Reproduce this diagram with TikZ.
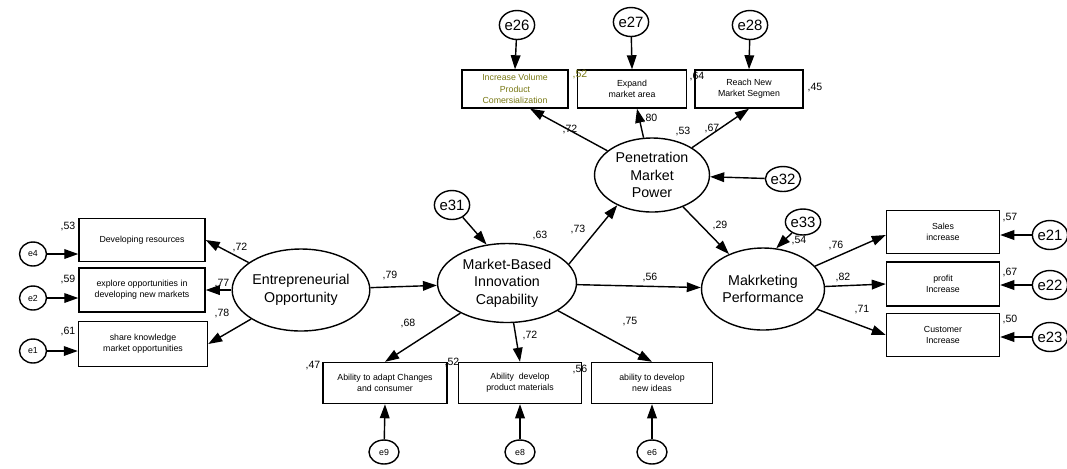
\documentclass[tikz,border=0pt]{standalone}
\usepackage{fontspec}
\setmainfont{Liberation Sans}
\usetikzlibrary{shapes.geometric,arrows.meta}
\definecolor{olivetext}{RGB}{120,120,20}

\tikzset{
  latent/.style={draw, ellipse, line width=0.8pt, inner sep=0pt, align=center, font=\fontsize{8.1}{9.9}\selectfont},
  obs/.style={draw, rectangle, line width=0.8pt, inner sep=0pt, align=center, font=\fontsize{5}{6.4}\selectfont},
  errsmall/.style={draw, ellipse, line width=0.8pt, inner sep=0pt, minimum width=0.54cm, minimum height=0.48cm, font=\fontsize{5}{6}\selectfont},
  errbig/.style={draw, ellipse, line width=0.8pt, inner sep=0pt, minimum width=0.68cm, minimum height=0.58cm, font=\fontsize{8.5}{9}\selectfont},
  arr/.style={line width=0.8pt, -{Triangle[length=8pt, width=5.5pt]}},
  lbl/.style={inner sep=0pt, font=\fontsize{6}{7}\selectfont}
}

\begin{document}
\begin{tikzpicture}[x=0.02cm, y=-0.02cm]
\useasboundingbox (0,0) rectangle (1067,468);

% latent variables
\node[latent, minimum width=2.44cm, minimum height=1.64cm] (eo) at (301,290) {Entrepreneurial\\Opportunity};
\node[latent, minimum width=2.78cm, minimum height=1.58cm] (mbic) at (507,283) {Market-Based\\Innovation\\Capability};
\node[latent, minimum width=2.3cm, minimum height=1.48cm] (pmp) at (652,175) {Penetration\\Market\\Power};
\node[latent, minimum width=2.46cm, minimum height=1.64cm] (mp) at (763,289) {Makrketing\\Performance};

% indicators of entrepreneurial opportunity
\node[obs, minimum width=2.52cm, minimum height=0.86cm] (devres) at (142,240) {Developing resources};
\node[obs, minimum width=2.52cm, minimum height=0.88cm] (explore) at (142,290) {explore opportunities in\\developing new markets};
\node[obs, minimum width=2.58cm, minimum height=0.9cm] (share) at (143,344) {share knowledge\\market opportunities};
\node[errsmall] (e4) at (33,254) {e4};
\node[errsmall] (e2) at (33,298) {e2};
\node[errsmall] (e1) at (33,351) {e1};

% indicators of innovation capability
\node[obs, minimum width=2.48cm, minimum height=0.82cm] (adapt) at (385,383) {Ability to adapt Changes\\and consumer};
\node[obs, minimum width=2.46cm, minimum height=0.82cm] (product) at (520,383) {Ability\ \ develop\\product materials};
\node[obs, minimum width=2.42cm, minimum height=0.82cm] (ideas) at (652,383) {ability to develop\\new ideas};
\node[errsmall, minimum width=0.6cm] (e9) at (384,452) {e9};
\node[errsmall, minimum width=0.6cm] (e8) at (520,452) {e8};
\node[errsmall, minimum width=0.6cm] (e6) at (652,452) {e6};

% indicators of penetration market power
\node[obs, minimum width=2.12cm, minimum height=0.76cm, text=olivetext] (volume) at (515,89) {Increase Volume\\Product\\Comersialization};
\node[obs, minimum width=2.18cm, minimum height=0.76cm] (expand) at (632,89) {Expand\\market area};
\node[obs, minimum width=2.16cm, minimum height=0.76cm] (reach) at (749,89) {Reach New\\Market Segmen};
\node[errbig] (e26) at (517,25) {e26};
\node[errbig] (e27) at (631,22) {e27};
\node[errbig] (e28) at (750,25) {e28};

% indicators of marketing performance
\node[obs, minimum width=2.26cm, minimum height=0.86cm] (sales) at (943,232) {Sales\\increase};
\node[obs, minimum width=2.26cm, minimum height=0.88cm] (profit) at (943,284) {profit\\Increase};
\node[obs, minimum width=2.26cm, minimum height=0.86cm] (customer) at (943,335) {Customer\\Increase};
\node[errbig] (e21) at (1050,235) {e21};
\node[errbig] (e22) at (1050,285) {e22};
\node[errbig] (e23) at (1050,337) {e23};

% disturbances
\node[errbig] (e31) at (452,205) {e31};
\node[errbig, minimum width=0.6cm, minimum height=0.5cm] (e32) at (783,179) {e32};
\node[errbig, minimum width=0.64cm, minimum height=0.52cm] (e33) at (803,222) {e33};

% estimates
\node[lbl] at (68,226) {,53};
\node[lbl] at (68,279) {,59};
\node[lbl] at (68,331) {,61};
\node[lbl] at (240,247) {,72};
\node[lbl] at (222,284) {,77};
\node[lbl] at (222,313) {,78};
\node[lbl] at (390,275) {,79};
\node[lbl] at (540,235) {,63};
\node[lbl] at (578,229) {,73};
\node[lbl] at (650,277) {,56};
\node[lbl] at (408,323) {,68};
\node[lbl] at (530,335) {,72};
\node[lbl] at (630,322) {,75};
\node[lbl] at (313,366) {,47};
\node[lbl] at (452,362) {,52};
\node[lbl] at (580,369) {,56};
\node[lbl] at (570,129) {,72};
\node[lbl] at (650,118) {,80};
\node[lbl] at (683,131) {,53};
\node[lbl] at (712,128) {,67};
\node[lbl, text=olivetext] at (580,74) {,52};
\node[lbl] at (697,76) {,64};
\node[lbl] at (815,88) {,45};
\node[lbl] at (720,225) {,29};
\node[lbl] at (799,241) {,54};
\node[lbl] at (836,245) {,76};
\node[lbl] at (843,277) {,82};
\node[lbl] at (862,310) {,71};
\node[lbl] at (1010,218) {,57};
\node[lbl] at (1010,272) {,67};
\node[lbl] at (1010,319) {,50};

% structural paths
\draw[arr] (eo) -- (mbic);
\draw[arr] (mbic.17) -- (pmp.221);
\draw[arr] (mbic) -- (mp);
\draw[arr] (pmp) -- (mp);
\draw[arr] (e31) -- (mbic.118);
\draw[arr] (e32) -- (pmp);
\draw[arr] (e33) -- (mp.72);

% measurement paths
\draw[arr] (eo) -- (devres.east);
\draw[arr] (eo) -- (explore.east);
\draw[arr] (eo) -- (share.east);
\draw[arr] (e4) -- (devres.west |- e4);
\draw[arr] (e2) -- (explore.west |- e2);
\draw[arr] (e1) -- (share.west |- e1);

\draw[arr] (mbic) -- (adapt.north);
\draw[arr] (mbic) -- (product.north);
\draw[arr] (mbic) -- (ideas.north);
\draw[arr] (e9) -- (adapt.south);
\draw[arr] (e8) -- (product.south);
\draw[arr] (e6) -- (ideas.south);

\draw[arr] (pmp) -- ([xshift=0.3cm]volume.south);
\draw[arr] (pmp) -- ([xshift=0.1cm]expand.south);
\draw[arr] (pmp) -- (reach.south);
\draw[arr] (e26) -- (volume.north);
\draw[arr] (e27) -- (expand.north);
\draw[arr] (e28) -- (reach.north);

\draw[arr] (mp) -- ([yshift=-0.06cm]sales.west);
\draw[arr] (mp) -- (profit.west);
\draw[arr] (mp) -- (customer.west);
\draw[arr] (e21) -- (sales.east |- e21);
\draw[arr] (e22) -- (profit.east |- e22);
\draw[arr] (e23) -- (customer.east |- e23);
\end{tikzpicture}
\end{document}
